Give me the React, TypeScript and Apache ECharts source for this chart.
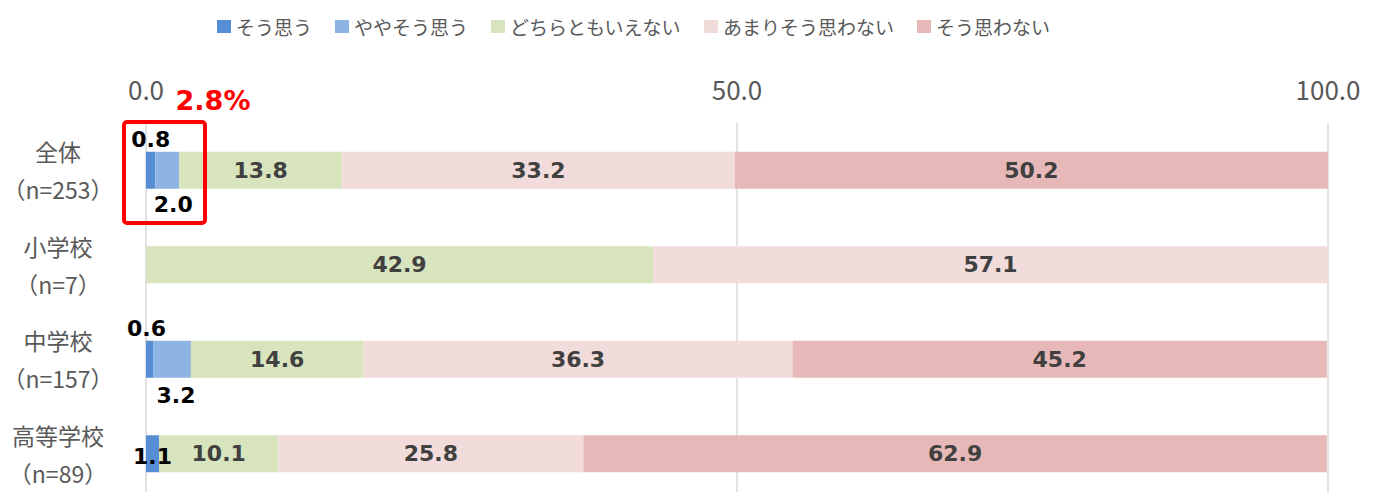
import React, { useEffect, useRef } from "react";
import * as echarts from "echarts";

const categories = ["全体\n（n=253）", "小学校\n（n=7）", "中学校\n（n=157）", "高等学校\n（n=89）"];
const seriesNames = ["そう思う", "ややそう思う", "どちらともいえない", "あまりそう思わない", "そう思わない"];
const soOmou = [0.8, 0, 0.6, 1.1];
const yayaSoOmou = [2.0, 0, 3.2, 0];
const dochiramo = [13.8, 42.9, 14.6, 10.1];
const amari = [33.2, 57.1, 36.3, 25.8];
const soOmowanai = [50.2, 0, 45.2, 62.9];
const axisMin = 0;
const axisMax = 100;
const axisInterval = 50;
const highlightText = "2.8%";

const colors = ["#558ED5", "#8EB4E3", "#D7E4BD", "#F2DCDB", "#E6B9B8"];
const allValues = [soOmou, yayaSoOmou, dochiramo, amari, soOmowanai];

// per-point label style overrides for the small segments
const labelOverrides: Record<string, any> = {
  "0-0": { position: "top", distance: 1, color: "#000", offset: [0, 0] },
  "0-2": { position: "top", distance: 1, color: "#000", offset: [-3, 0] },
  "0-3": { position: "inside", color: "#000", offset: [0, 3] },
  "1-0": { position: "bottom", distance: 5, color: "#000", offset: [6, 0] },
  "1-2": { position: "bottom", distance: 7, color: "#000", offset: [4, 0] },
};

export default function App() {
  const ref = useRef<HTMLDivElement>(null);
  useEffect(() => {
    document.body.style.margin = "0";
    document.body.style.overflow = "hidden";
    const chart = echarts.init(ref.current!, undefined, { renderer: "svg" });
    const series = allValues.map((vals, si) => ({
      name: seriesNames[si],
      type: "bar",
      stack: "total",
      barWidth: 37,
      itemStyle: { color: colors[si] },
      label: {
        show: true,
        position: "inside",
        fontFamily: "DejaVu Sans",
        fontWeight: "bold",
        fontSize: 22,
        color: "#404040",
        formatter: (p: any) => (p.value > 0 ? Number(p.value).toFixed(1) : ""),
      },
      data: vals.map((v, ci) => {
        const ov = labelOverrides[`${si}-${ci}`];
        return ov ? { value: v, label: ov } : { value: v };
      }),
    }));
    chart.setOption({
      animation: false,
      legend: {
        left: 212,
        top: 12,
        icon: "rect",
        itemWidth: 14,
        itemHeight: 13,
        itemGap: 23,
        textStyle: { fontSize: 19, color: "#595959", fontFamily: "Noto Sans CJK JP" },
        data: seriesNames,
      },
      grid: {
        left: 146,
        width: 1182,
        top: 123,
        height: 378,
        containLabel: false,
        outerBoundsMode: "none",
      },
      xAxis: {
        type: "value",
        position: "top",
        min: axisMin,
        max: axisMax,
        interval: axisInterval,
        axisLine: { show: false },
        axisTick: { show: false },
        splitLine: { show: true, lineStyle: { color: "#D9D9D9", width: 1.5 } },
        axisLabel: {
          formatter: (v: number) => v.toFixed(1),
          fontSize: 26,
          color: "#595959",
          fontFamily: "Noto Sans CJK JP",
          margin: 22,
        },
      },
      yAxis: {
        type: "category",
        inverse: true,
        data: categories,
        axisLine: { show: false },
        axisTick: { show: false },
        axisLabel: {
          align: "center",
          margin: 88,
          lineHeight: 38,
          fontSize: 23,
          color: "#595959",
          fontFamily: "Noto Sans CJK JP",
        },
      },
      series,
      graphic: [
        {
          type: "rect",
          shape: { x: 124, y: 122, width: 81, height: 101, r: 3 },
          style: { fill: "none", stroke: "#FF0000", lineWidth: 4 },
          z: 100,
        },
        {
          type: "text",
          x: 213,
          y: 100,
          style: {
            text: highlightText,
            fill: "#FF0000",
            fontSize: 27,
            fontWeight: "bold",
            fontFamily: "DejaVu Sans",
            align: "center",
            verticalAlign: "middle",
          },
          z: 100,
        },
      ],
    });
    return () => chart.dispose();
  }, []);
  return <div ref={ref} style={{ width: 1379, height: 520 }} />;
}
